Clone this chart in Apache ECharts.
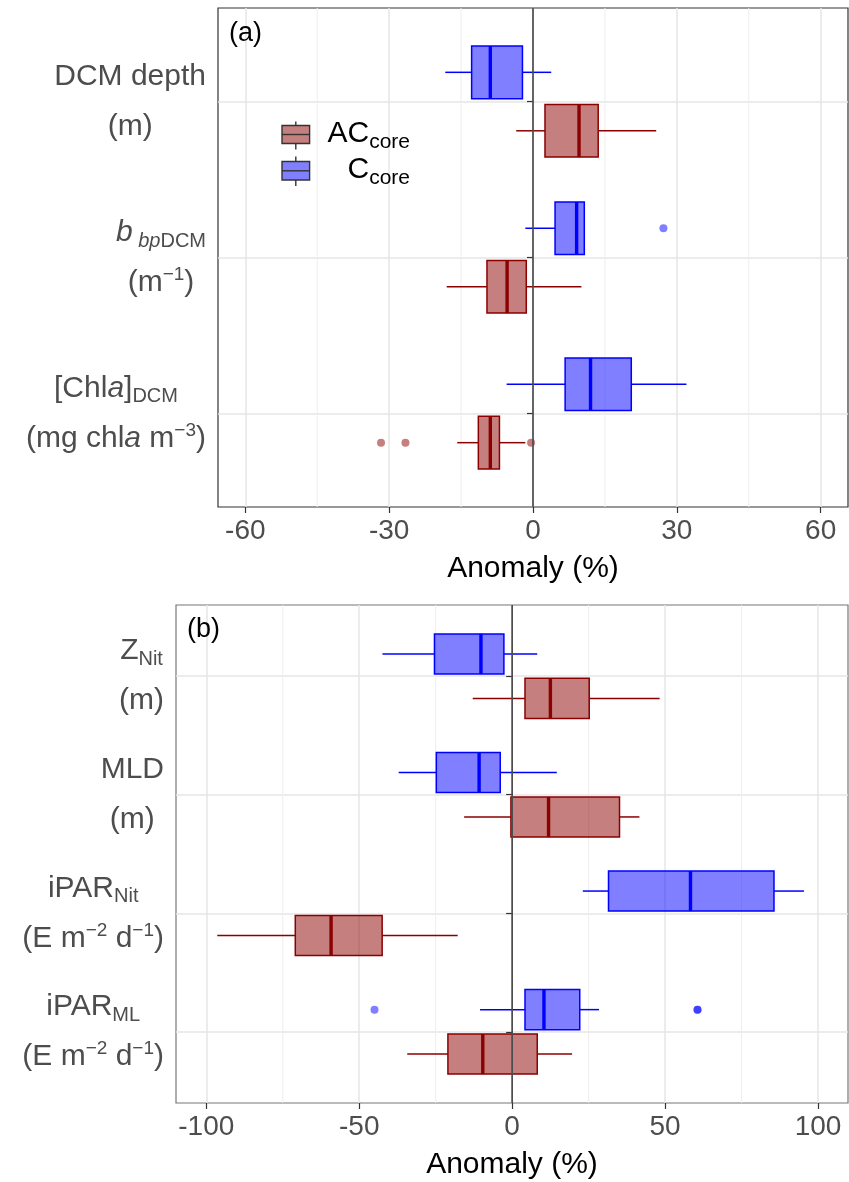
<!DOCTYPE html>
<html><head><meta charset="utf-8">
<script src="https://cdn.jsdelivr.net/npm/echarts@6/dist/echarts.min.js"></script>
<style>html,body{margin:0;padding:0;background:#fff}#c{width:849px;height:1182px}</style>
</head><body><div id="c"></div>
<script>
// ---------- Panel (a) ----------
// each box: [whiskerLow, q1, median, q3, whiskerHigh], one per category (top to bottom)
const catsA = ['DCM depth', 'bbpDCM', 'ChlaDCM'];
const aC  = [[-18.3, -12.8, -8.9, -2.2, 3.8], [-1.6, 4.6, 9.1, 10.7, 10.7], [-5.5, 6.7, 12.0, 20.5, 32.0]];
const aAC = [[-3.5, 2.5, 9.6, 13.6, 25.7], [-18.0, -9.6, -5.4, -1.4, 10.1], [-15.8, -11.4, -8.9, -7.0, -1.6]];
// outliers: [value, category number]
const aOutC  = [[27.2, 2]];
const aOutAC = [[-0.4, 3], [-31.7, 3], [-26.6, 3]];
const ticksA = [-60, -30, 0, 30, 60];
const minorA = [-45, -15, 15, 45];
const labelsA = [
  '{n|DCM depth}\n{n|(m)}',
  '{ni|b}{si| bp}{s|DCM}\n{n|(m}{p|\u22121}{n|)}',
  '{n|[Chl}{ni|a}{n|]}{s|DCM}\n{n|(mg chl}{ni|a}{n| m}{p|\u22123}{n|)}'
];

// ---------- Panel (b) ----------
const catsB = ['ZNit', 'MLD', 'iPARNit', 'iPARML'];
const bC  = [[-42.4, -25.4, -10.2, -2.7, 8.2], [-37.1, -24.8, -10.8, -3.9, 14.6], [23.1, 31.5, 58.3, 85.6, 95.4], [-10.5, 4.2, 10.4, 22.1, 28.4]];
const bAC = [[-12.9, 4.2, 12.5, 25.2, 48.2], [-15.7, -0.4, 11.9, 35.1, 41.6], [-96.4, -70.9, -59.2, -42.5, -17.8], [-34.3, -21.0, -9.6, 8.2, 19.6]];
const bOutC  = [[-45.0, 4], [60.6, 4], [60.6, 4]];
const bOutAC = [];
const ticksB = [-100, -50, 0, 50, 100];
const minorB = [-75, -25, 25, 75];
const labelsB = [
  '{n|Z}{s|Nit}\n{n|(m)}',
  '{n|MLD}\n{n|(m)}',
  '{n|iPAR}{s|Nit}\n{n|(E m}{p|\u22122}{n| d}{p|\u22121}{n|)}',
  '{n|iPAR}{s|ML}\n{n|(E m}{p|\u22122}{n| d}{p|\u22121}{n|)}'
];

// ---------- styling ----------
const FF = "'Liberation Sans', Arial, sans-serif";
const BLUE = '#0000ff', BLUEF = 'rgba(0,0,255,0.5)';
const RED = '#8b0000', REDF = 'rgba(139,0,0,0.5)';
const DODGE = 0.1875, BOXW = 0.3375;

const rich = {
  n:  {fontSize: 30, fontFamily: FF, color: '#4d4d4d', align: 'center', lineHeight: 50, verticalAlign: 'middle'},
  ni: {fontSize: 30, fontFamily: FF, color: '#4d4d4d', align: 'center', lineHeight: 50, verticalAlign: 'middle', fontStyle: 'italic'},
  s:  {fontSize: 20, fontFamily: FF, color: '#4d4d4d', align: 'center', verticalAlign: 'middle', padding: [17, 0, 0, 0]},
  si: {fontSize: 20, fontFamily: FF, color: '#4d4d4d', align: 'center', verticalAlign: 'middle', padding: [17, 0, 0, 0], fontStyle: 'italic'},
  p:  {fontSize: 19, fontFamily: FF, color: '#4d4d4d', align: 'center', verticalAlign: 'middle', padding: [0, 0, 16, 0]}
};

function boxData(arr, off) {
  return arr.map((b, i) => [i + 1 + off].concat(b));
}
function outData(arr, off) {
  return arr.map(o => [o[0], o[1] + off]);
}
function boxSeries(idx, arr, off, stroke, fill) {
  return {
    type: 'custom', xAxisIndex: idx, yAxisIndex: idx, z: 3,
    encode: {x: [1, 2, 3, 4, 5], y: 0},
    data: boxData(arr, off),
    renderItem: function (params, api) {
      const y = api.value(0);
      const px = k => api.coord([api.value(k), y])[0];
      const yc = api.coord([0, y])[1];
      const h = api.size([0, BOXW])[1];
      const xl = px(1), q1 = px(2), md = px(3), q3 = px(4), xh = px(5);
      return {type: 'group', children: [
        {type: 'line', shape: {x1: xl, y1: yc, x2: q1, y2: yc}, style: {stroke: stroke, lineWidth: 1.5}},
        {type: 'line', shape: {x1: q3, y1: yc, x2: xh, y2: yc}, style: {stroke: stroke, lineWidth: 1.5}},
        {type: 'rect', shape: {x: q1, y: yc - h / 2, width: q3 - q1, height: h}, style: {fill: fill, stroke: stroke, lineWidth: 1.5}},
        {type: 'line', shape: {x1: md, y1: yc - h / 2, x2: md, y2: yc + h / 2}, style: {stroke: stroke, lineWidth: 3.4}}
      ]};
    }
  };
}
function vlineSeries(idx, vals, color, width, z) {
  return {
    type: 'custom', xAxisIndex: idx, yAxisIndex: idx, z: z, silent: true,
    encode: {x: 0},
    data: vals.map(v => [v]),
    renderItem: function (params, api) {
      const cs = params.coordSys;
      const x = api.coord([api.value(0), 1])[0];
      return {type: 'line', shape: {x1: x, y1: cs.y, x2: x, y2: cs.y + cs.height}, style: {stroke: color, lineWidth: width}};
    }
  };
}
function outSeries(idx, arr, off, color) {
  return {type: 'scatter', xAxisIndex: idx, yAxisIndex: idx, z: 4, symbolSize: 8,
    itemStyle: {color: color, opacity: 1}, data: outData(arr, off)};
}
function xAxis(idx, min, max, ticks) {
  return {
    gridIndex: idx, type: 'value', min: min, max: max,
    axisLine: {show: false},
    axisTick: {show: true, customValues: ticks, length: 6, lineStyle: {color: '#333', width: 1.2}},
    axisLabel: {customValues: ticks, margin: 10, fontSize: 28, color: '#4d4d4d', fontFamily: FF},
    splitLine: {show: true, lineStyle: {color: '#e6e6e6', width: 1.5}},
    name: 'Anomaly (%)', nameLocation: 'middle', nameGap: 47,
    nameTextStyle: {fontSize: 30, color: '#000', fontFamily: FF}
  };
}
function yAxis(idx, n, labels) {
  const vals = [];
  for (let i = 1; i <= n; i++) vals.push(i);
  return {
    gridIndex: idx, type: 'value', min: 0.4, max: n + 0.6, inverse: true,
    axisLine: {show: false},
    axisTick: {show: true, customValues: vals, length: 6, lineStyle: {color: '#333', width: 1.2}},
    axisLabel: {customValues: vals, margin: 12, align: 'right', verticalAlign: 'middle',
      formatter: v => labels[Math.round(v) - 1], rich: rich},
    splitLine: {show: true, lineStyle: {color: '#e6e6e6', width: 1.5}}
  };
}
const legRich = {
  m: {fontSize: 30, fontFamily: FF, color: '#000', lineHeight: 40, verticalAlign: 'middle'},
  s: {fontSize: 21, fontFamily: FF, color: '#000', verticalAlign: 'middle', padding: [16, 0, 0, 0]}
};
const tagRich = {t: {fontSize: 27, fontFamily: FF, color: '#000', lineHeight: 30}};

const option = {
  animation: false,
  backgroundColor: '#fff',
  grid: [
    {left: 218, top: 8, width: 630, height: 499, show: true, borderColor: '#333', borderWidth: 1.2, backgroundColor: '#fff'},
    {left: 176, top: 605, width: 672, height: 498, show: true, borderColor: '#777', borderWidth: 1.2, backgroundColor: '#fff'}
  ],
  xAxis: [xAxis(0, -65.7, 65.7, ticksA), xAxis(1, -109.9, 109.8, ticksB)],
  yAxis: [yAxis(0, catsA.length, labelsA), yAxis(1, catsB.length, labelsB)],
  series: [
    vlineSeries(0, minorA, '#eeeeee', 1, 1),
    vlineSeries(1, minorB, '#eeeeee', 1, 1),
    boxSeries(0, aC, -DODGE, BLUE, BLUEF),
    boxSeries(0, aAC, DODGE, RED, REDF),
    boxSeries(1, bC, -DODGE, BLUE, BLUEF),
    boxSeries(1, bAC, DODGE, RED, REDF),
    outSeries(0, aOutC, -DODGE, BLUEF),
    outSeries(0, aOutAC, DODGE, REDF),
    outSeries(1, bOutC, -DODGE, BLUEF),
    outSeries(1, bOutAC, DODGE, REDF),
    vlineSeries(0, [0], '#4d4d4d', 1.7, 5),
    vlineSeries(1, [0], '#4d4d4d', 1.7, 5)
  ],
  graphic: [
    {type: 'text', z: 12, x: 229, y: 34, style: {text: '{t|(a)}', rich: tagRich, align: 'left', verticalAlign: 'middle'}},
    {type: 'text', z: 12, x: 187, y: 630, style: {text: '{t|(b)}', rich: tagRich, align: 'left', verticalAlign: 'middle'}},
    // legend keys
    {type: 'line', shape: {x1: 295.8, y1: 121.5, x2: 295.8, y2: 149.5}, style: {stroke: '#333', lineWidth: 1.4}, z: 10},
    {type: 'rect', shape: {x: 282, y: 125.5, width: 27.6, height: 18}, style: {fill: '#c57f7f', stroke: '#333', lineWidth: 1.4}, z: 11},
    {type: 'line', shape: {x1: 282, y1: 134.5, x2: 309.6, y2: 134.5}, style: {stroke: '#333', lineWidth: 1.4}, z: 12},
    {type: 'line', shape: {x1: 295.8, y1: 156.5, x2: 295.8, y2: 186}, style: {stroke: '#333', lineWidth: 1.4}, z: 10},
    {type: 'rect', shape: {x: 282, y: 161.5, width: 27.6, height: 18.5}, style: {fill: '#8080ff', stroke: '#333', lineWidth: 1.4}, z: 11},
    {type: 'line', shape: {x1: 282, y1: 170.8, x2: 309.6, y2: 170.8}, style: {stroke: '#333', lineWidth: 1.4}, z: 12},
    {type: 'text', z: 12, x: 410, y: 134, style: {text: '{m|AC}{s|core}', align: 'right', verticalAlign: 'middle', rich: legRich}},
    {type: 'text', z: 12, x: 410, y: 170, style: {text: '{m|C}{s|core}', align: 'right', verticalAlign: 'middle', rich: legRich}}
  ]
};
const chart = echarts.init(document.getElementById('c'), null, {renderer: 'canvas'});
chart.setOption(option);
</script>
</body></html>
